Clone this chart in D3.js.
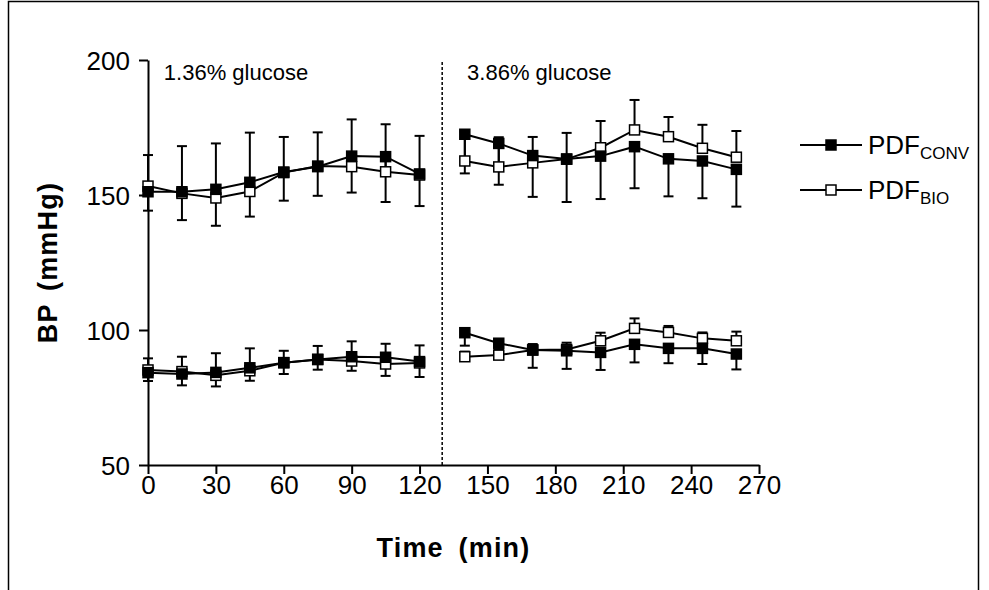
<!DOCTYPE html>
<html>
<head>
<meta charset="utf-8">
<script src="https://cdn.jsdelivr.net/npm/d3@7"></script>
<style>
  body { margin: 0; background: #fff; }
  svg { display: block; font-family: "Liberation Sans", Arial, Helvetica, sans-serif; }
</style>
</head>
<body>
<svg id="chart"></svg>
<script>
// time points (min) for the two dwell periods
const timesA = [0, 15, 30, 45, 60, 75, 90, 105, 120];
const timesB = [140, 155, 170, 185, 200, 215, 230, 245, 260];

// systolic BP (upper pair of curves)
const sysConv = [151.2, 151.2, 152.1, 154.7, 158.5, 160.5, 164.4, 164.2, 157.8,
                 172.5, 169.1, 164.6, 163.3, 164.4, 167.9, 163.4, 162.6, 159.5];
const sysConvErr = [7.0, 10.5, 13.5, 12.7, 10.6, 10.8, 13.5, 16.8, 11.9,
                    14.5, 15.3, 15.3, 15.9, 15.9, 15.4, 13.9, 13.8, 13.8];
const sysBio = [153.3, 150.6, 148.9, 151.3, 158.3, 160.7, 160.5, 158.6, 157.4,
                162.6, 160.4, 161.9, 163.3, 167.5, 174.1, 171.6, 167.3, 164.0];
const sysBioErr = [11.5, 17.5, 20.2, 21.8, 13.2, 12.5, 17.5, 17.6, 14.5,
                   10.8, 11.0, 9.6, 9.7, 9.9, 11.1, 7.3, 8.7, 9.7];

// diastolic BP (lower pair of curves)
const diaConv = [84.2, 83.7, 84.3, 86.0, 87.9, 89.1, 90.1, 89.9, 88.3,
                 99.0, 95.1, 92.6, 92.3, 91.7, 94.7, 93.2, 93.2, 91.1];
const diaConvErr = [3.1, 4.2, 5.2, 4.8, 4.2, 3.8, 5.2, 6.9, 5.7,
                    4.8, 2.5, 6.6, 6.7, 6.5, 6.7, 5.5, 5.8, 5.7];
const diaBio = [85.2, 84.6, 83.2, 84.9, 87.9, 89.1, 88.5, 87.4, 87.8,
                90.1, 90.7, 92.6, 92.8, 96.0, 100.6, 99.1, 96.9, 96.0];
const diaBioErr = [4.3, 5.5, 8.2, 8.3, 4.4, 5.0, 7.3, 7.5, 6.5,
                   1.9, 2.0, 2.2, 2.5, 3.0, 3.7, 2.4, 2.2, 3.4];

const xTicks = [0, 30, 60, 90, 120, 150, 180, 210, 240, 270];
const yTicks = [50, 100, 150, 200];
const glucoseLabels = ["1.36% glucose", "3.86% glucose"];
const switchTime = 130;

const W = 989, H = 590;
const svg = d3.select("#chart").attr("width", W).attr("height", H);

// outer frame (bottom edge runs off the picture)
svg.append("rect")
  .attr("x", 8.5).attr("y", 1.5).attr("width", 970).attr("height", 620)
  .attr("fill", "none").attr("stroke", "#000").attr("stroke-width", 1.5);

const x = d3.scaleLinear().domain([0, 270]).range([148, 759]);
const y = d3.scaleLinear().domain([50, 200]).range([465, 60]);

// axes
const xAxis = svg.append("g")
  .attr("transform", `translate(0,${y(50)})`)
  .call(d3.axisBottom(x).tickValues(xTicks).tickSize(9).tickPadding(2).tickSizeOuter(0));
const yAxis = svg.append("g")
  .attr("transform", `translate(${x(0)},0)`)
  .call(d3.axisLeft(y).tickValues(yTicks).tickSize(9).tickPadding(9).tickSizeOuter(0));

[xAxis, yAxis].forEach(g => {
  g.attr("font-size", null).attr("font-family", null);
  g.select(".domain").attr("stroke-width", 2);
  g.selectAll(".tick line").attr("stroke-width", 2);
  g.selectAll(".tick text")
    .style("font-size", "26px")
    .attr("fill", "#000");
});
yAxis.selectAll(".tick text").attr("dy", "0.36em");

// axis titles
svg.append("text")
  .attr("x", (x(0) + x(270)) / 2).attr("y", 557)
  .attr("text-anchor", "middle").attr("font-size", 27).attr("font-weight", "bold")
  .attr("letter-spacing", 1.2).attr("word-spacing", 6)
  .text("Time (min)");
svg.append("text")
  .attr("transform", `translate(57,${(y(50) + y(200)) / 2}) rotate(-90)`)
  .attr("text-anchor", "middle").attr("font-size", 27).attr("font-weight", "bold")
  .attr("letter-spacing", 1.2).attr("word-spacing", 4)
  .text("BP (mmHg)");

// dotted divider between the two dwells
svg.append("line")
  .attr("x1", x(switchTime)).attr("x2", x(switchTime))
  .attr("y1", y(50)).attr("y2", y(200))
  .attr("stroke", "#000").attr("stroke-width", 1.5).attr("stroke-dasharray", "3,2");

svg.selectAll(".glabel").data(glucoseLabels).enter().append("text")
  .attr("class", "glabel")
  .attr("x", (d, i) => i === 0 ? x(7) : x(141))
  .attr("y", 80)
  .attr("font-size", 22)
  .text(d => d);

// build point records; dir = -1 for error below, +1 for error above
function points(vals, errs, dir) {
  const all = timesA.concat(timesB);
  return all.map((t, i) => ({ t: t, v: vals[i], e: errs[i], dir: dir, seg: i < timesA.length ? 0 : 1 }));
}

const series = [
  { pts: points(sysConv, sysConvErr, -1), filled: true },
  { pts: points(sysBio, sysBioErr, 1), filled: false },
  { pts: points(diaConv, diaConvErr, -1), filled: true },
  { pts: points(diaBio, diaBioErr, 1), filled: false }
];

const line = d3.line().x(d => x(d.t)).y(d => y(d.v));
const capW = 5, mk = 10;

const gErr = svg.append("g");
const gLine = svg.append("g");
const gMark = svg.append("g");

series.forEach(s => {
  // error bars
  s.pts.forEach(p => {
    const yEnd = y(p.v + p.dir * p.e);
    gErr.append("line")
      .attr("x1", x(p.t)).attr("x2", x(p.t))
      .attr("y1", y(p.v)).attr("y2", yEnd)
      .attr("stroke", "#000").attr("stroke-width", 2);
    gErr.append("line")
      .attr("x1", x(p.t) - capW).attr("x2", x(p.t) + capW)
      .attr("y1", yEnd).attr("y2", yEnd)
      .attr("stroke", "#000").attr("stroke-width", 2);
  });
  // lines (broken between the two dwells)
  [0, 1].forEach(k => {
    gLine.append("path")
      .datum(s.pts.filter(p => p.seg === k))
      .attr("d", line)
      .attr("fill", "none").attr("stroke", "#000").attr("stroke-width", 2);
  });
});

// markers drawn last, open ones then filled
series.slice().sort((a, b) => a.filled - b.filled).forEach(s => {
  gMark.selectAll(null).data(s.pts).enter().append("rect")
    .attr("x", d => x(d.t) - mk / 2).attr("y", d => y(d.v) - mk / 2)
    .attr("width", mk).attr("height", mk)
    .attr("fill", s.filled ? "#000" : "#fff")
    .attr("stroke", "#000").attr("stroke-width", 1.5);
});

// legend
const legend = [
  { label: "PDF", sub: "CONV", filled: true, y: 145 },
  { label: "PDF", sub: "BIO", filled: false, y: 190 }
];
legend.forEach(l => {
  const g = svg.append("g");
  g.append("line").attr("x1", 800).attr("x2", 862).attr("y1", l.y).attr("y2", l.y)
    .attr("stroke", "#000").attr("stroke-width", 2);
  g.append("rect").attr("x", 831 - mk / 2).attr("y", l.y - mk / 2)
    .attr("width", mk).attr("height", mk)
    .attr("fill", l.filled ? "#000" : "#fff").attr("stroke", "#000").attr("stroke-width", 1.5);
  const t = g.append("text").attr("x", 868).attr("y", l.y + 9).attr("font-size", 26);
  t.append("tspan").text(l.label);
  t.append("tspan").attr("font-size", 17).attr("dy", 5).text(l.sub);
});
</script>
</body>
</html>
